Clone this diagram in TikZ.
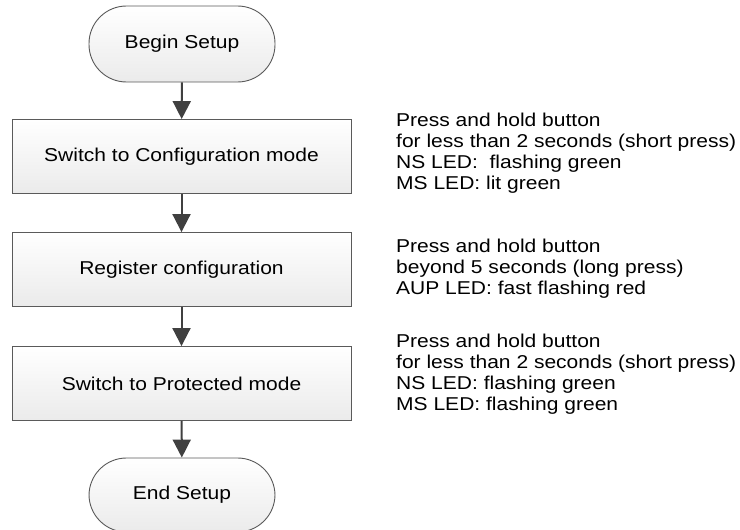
\documentclass[tikz,border=0pt]{standalone}
\usepackage{fontspec}
\setmainfont{Liberation Sans}[FakeStretch=1.13]
\usetikzlibrary{arrows.meta}
\definecolor{edge}{HTML}{5A5A5A}
\definecolor{arrowc}{HTML}{404040}
\tikzset{
  base/.style={draw=edge, line width=0.9pt, top color=white, bottom color=black!8,
    font=\fontsize{18.6}{21}\selectfont, inner sep=0pt},
  term/.style={base, minimum width=186pt, minimum height=76pt, rounded corners=37.5pt},
  stepbox/.style={base, minimum width=339pt, minimum height=74pt},
  flow/.style={draw=arrowc, line width=2pt, -{Triangle[width=18pt,length=18pt]}},
  note/.style={font=\fontsize{18.6}{21}\selectfont, align=left, anchor=north west, inner sep=0pt}
}
\begin{document}
\begin{tikzpicture}[x=1pt,y=-1pt]
\useasboundingbox (0,0) rectangle (740,530);
\node[term] (begin) at (182,44) {Begin Setup};
\node[stepbox] (cfg) at (181.5,156.5) {Switch to Configuration mode};
\node[stepbox] (reg) at (181.5,269.5) {Register configuration};
\node[stepbox] (prot) at (181.5,383.5) {Switch to Protected mode};
\node[term, minimum height=74pt] (end) at (182,495) {End Setup};
\draw[flow] (begin) -- (cfg);
\draw[flow] (cfg) -- (reg);
\draw[flow] (reg) -- (prot);
\draw[flow] (prot) -- (end);
\node[note] (n1) at (396,112.5) {Press and hold button\\for less than 2 seconds (short press)\\NS LED:\ \ flashing green\\MS LED: lit green};
\node[note] (n2) at (396,238.5) {Press and hold button\\beyond 5 seconds (long press)\\AUP LED: fast flashing red};
\node[note] (n3) at (396,333.5) {Press and hold button\\for less than 2 seconds (short press)\\NS LED: flashing green\\MS LED: flashing green};
\end{tikzpicture}
\end{document}
